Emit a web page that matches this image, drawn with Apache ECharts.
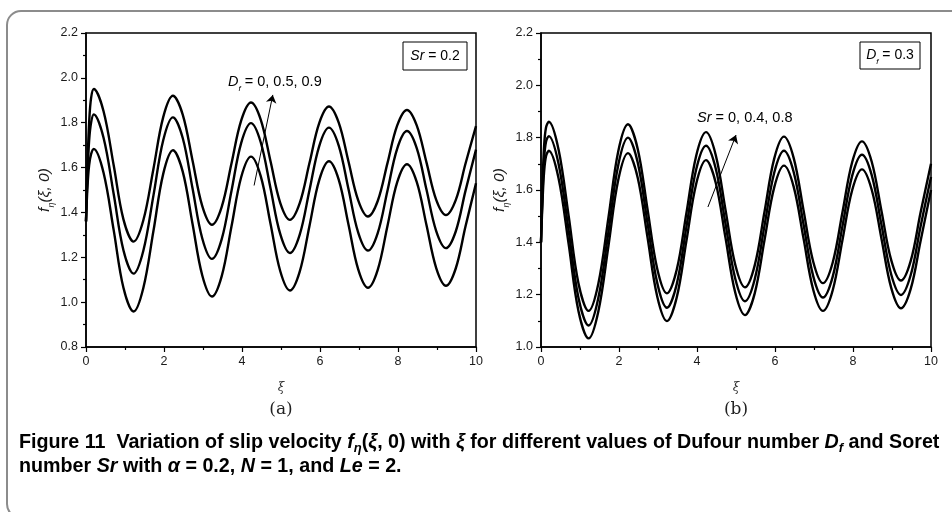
<!DOCTYPE html>
<html>
<head>
<meta charset="utf-8">
<script src="https://cdn.jsdelivr.net/npm/echarts@6/dist/echarts.min.js"></script>
<style>
  html, body { margin: 0; padding: 0; background: #fff; }
  #chart { width: 952px; height: 512px; }
</style>
</head>
<body>
<div id="chart"></div>
<script>
// ξ positions shared by every curve
const xi = [0, 0.04, 0.08, 0.13, 0.2, 0.45, 0.71, 0.96, 1.22, 1.47, 1.73, 1.98, 2.23, 2.48, 2.73, 2.98,
  3.23, 3.48, 3.73, 3.98, 4.23, 4.48, 4.73, 4.98, 5.23, 5.48, 5.73, 5.98, 6.23, 6.48, 6.73, 6.98,
  7.23, 7.48, 7.73, 7.98, 8.23, 8.48, 8.73, 8.98, 9.23, 9.48, 9.73, 10];

// Panel (a): Sr = 0.2, Df = 0, 0.5, 0.9
const aDf0 = [1.36, 1.52, 1.61, 1.66, 1.683, 1.577, 1.321, 1.064, 0.958, 1.063, 1.318, 1.572, 1.677, 1.582, 1.351, 1.120,
  1.025, 1.116, 1.337, 1.558, 1.649, 1.562, 1.351, 1.139, 1.052, 1.136, 1.340, 1.544, 1.628, 1.546, 1.346, 1.146,
  1.064, 1.144, 1.340, 1.535, 1.615, 1.536, 1.344, 1.152, 1.073, 1.150, 1.337, 1.53];
const aDf05 = [1.36, 1.58, 1.72, 1.80, 1.837, 1.733, 1.482, 1.231, 1.127, 1.229, 1.476, 1.722, 1.824, 1.732, 1.509, 1.285,
  1.193, 1.281, 1.496, 1.710, 1.798, 1.713, 1.509, 1.304, 1.219, 1.301, 1.499, 1.696, 1.778, 1.698, 1.504, 1.310,
  1.230, 1.308, 1.497, 1.685, 1.763, 1.687, 1.502, 1.317, 1.241, 1.315, 1.496, 1.68];
const aDf09 = [1.36, 1.62, 1.80, 1.91, 1.95, 1.851, 1.61, 1.369, 1.27, 1.365, 1.595, 1.825, 1.92, 1.836, 1.633, 1.429,
  1.345, 1.425, 1.618, 1.810, 1.89, 1.814, 1.629, 1.443, 1.367, 1.441, 1.620, 1.798, 1.872, 1.800, 1.627, 1.454,
  1.382, 1.451, 1.620, 1.788, 1.857, 1.788, 1.623, 1.456, 1.388, 1.455, 1.617, 1.785];

// Panel (b): Df = 0.3, Sr = 0, 0.4, 0.8
const bSr0 = [1.40, 1.56, 1.67, 1.73, 1.75, 1.645, 1.392, 1.138, 1.033, 1.136, 1.387, 1.638, 1.741, 1.647, 1.42, 1.193,
  1.099, 1.189, 1.407, 1.624, 1.714, 1.628, 1.418, 1.208, 1.122, 1.205, 1.408, 1.610, 1.693, 1.612, 1.416, 1.219,
  1.138, 1.217, 1.409, 1.600, 1.679, 1.601, 1.414, 1.226, 1.148, 1.222, 1.403, 1.60];
const bSr04 = [1.40, 1.59, 1.72, 1.785, 1.806, 1.70, 1.444, 1.188, 1.082, 1.187, 1.441, 1.695, 1.800, 1.705, 1.475, 1.245,
  1.150, 1.240, 1.460, 1.679, 1.769, 1.682, 1.472, 1.262, 1.175, 1.259, 1.463, 1.666, 1.750, 1.668, 1.470, 1.271,
  1.189, 1.269, 1.462, 1.655, 1.735, 1.657, 1.467, 1.277, 1.199, 1.275, 1.459, 1.65];
const bSr08 = [1.40, 1.62, 1.77, 1.84, 1.861, 1.755, 1.50, 1.244, 1.138, 1.242, 1.495, 1.747, 1.851, 1.757, 1.528, 1.299,
  1.205, 1.295, 1.513, 1.731, 1.821, 1.734, 1.525, 1.315, 1.228, 1.312, 1.516, 1.720, 1.804, 1.722, 1.524, 1.326,
  1.244, 1.323, 1.515, 1.707, 1.786, 1.708, 1.520, 1.332, 1.254, 1.329, 1.512, 1.70];

// Axis ranges and ticks
const xRange = [0, 10, 2];
const yRangeA = [0.8, 2.2, 0.2];
const yRangeB = [1.0, 2.2, 0.2];

// Direction arrows (data coordinates: start, end)
const arrowA = [[4.31, 1.52], [4.79, 1.924]];
const arrowB = [[4.28, 1.535], [5.0, 1.81]];

const AX = '#000';
const tickFont = { fontFamily: 'Liberation Sans, Arial, sans-serif', fontSize: 12.5, color: '#1a1a1a' };
const italicSans = { fontFamily: 'Liberation Sans, Arial, sans-serif', fontStyle: 'italic', fontSize: 14, color: '#1a1a1a' };
const subSans = { fontFamily: 'Liberation Sans, Arial, sans-serif', fontStyle: 'italic', fontSize: 8, color: '#1a1a1a', verticalAlign: 'bottom', padding: [0, 0, -3, 0] };
const titleSans = Object.assign({}, italicSans, { fontSize: 15.5 });
const titleSub = Object.assign({}, subSans, { fontSize: 9 });

function xAxisCfg(gridIndex) {
  return {
    type: 'value', gridIndex, min: xRange[0], max: xRange[1], interval: xRange[2],
    name: 'ξ', nameLocation: 'middle', nameGap: 35,
    nameTextStyle: { fontFamily: 'DejaVu Serif, serif', fontStyle: 'italic', fontSize: 12, color: '#333' },
    axisLine: { show: true, lineStyle: { color: AX, width: 1.5 } },
    axisTick: { show: true, inside: false, length: 5, lineStyle: { color: AX, width: 1.2 } },
    minorTick: { show: true, splitNumber: 2, length: 3, lineStyle: { color: AX, width: 1.2 } },
    splitLine: { show: false },
    axisLabel: Object.assign({ margin: 8 }, tickFont)
  };
}
function yAxisCfg(gridIndex, r) {
  return {
    type: 'value', gridIndex, min: r[0], max: r[1], interval: r[2],
    name: '{i|f}{s|η}{i|(ξ, 0)}', nameLocation: 'middle', nameGap: 33, nameRotate: 90,
    nameTextStyle: { rich: { i: titleSans, s: titleSub } },
    axisLine: { show: true, lineStyle: { color: AX, width: 1.5 } },
    axisTick: { show: true, inside: false, length: 5, lineStyle: { color: AX, width: 1.2 } },
    minorTick: { show: true, splitNumber: 2, length: 3, lineStyle: { color: AX, width: 1.2 } },
    splitLine: { show: false },
    axisLabel: Object.assign({ margin: 8, formatter: v => v.toFixed(1) }, tickFont)
  };
}

function curve(vals, xIdx, extra) {
  return Object.assign({
    type: 'line', xAxisIndex: xIdx, yAxisIndex: xIdx,
    data: xi.map((x, i) => [x, vals[i]]),
    showSymbol: false, smooth: 0.35,
    lineStyle: { color: '#000', width: 2.4 }, silent: true
  }, extra || {});
}
function arrow(a) {
  return {
    silent: true, symbol: ['none', 'arrow'], symbolSize: 8,
    label: { show: false },
    lineStyle: { color: '#000', width: 1, type: 'solid' },
    data: [[{ coord: a[0] }, { coord: a[1] }]]
  };
}

const capFont = 'Liberation Sans, Arial, sans-serif';
const capBase = { fontFamily: capFont, fontWeight: 'bold', fontSize: 19.7, color: '#231f20', lineHeight: 24 };
const capRich = {
  n: capBase,
  i: Object.assign({}, capBase, { fontStyle: 'italic' }),
  s: Object.assign({}, capBase, { fontStyle: 'italic', fontSize: 13, verticalAlign: 'bottom', lineHeight: 20 })
};

const chart = echarts.init(document.getElementById('chart'), null, { renderer: 'canvas' });
chart.setOption({
  animation: false,
  backgroundColor: '#fff',
  grid: [
    { left: 86, top: 33, width: 390, height: 314, show: true, borderColor: AX, borderWidth: 1.5, backgroundColor: 'transparent' },
    { left: 541, top: 33, width: 390, height: 314, show: true, borderColor: AX, borderWidth: 1.5, backgroundColor: 'transparent' }
  ],
  xAxis: [xAxisCfg(0), xAxisCfg(1)],
  yAxis: [yAxisCfg(0, yRangeA), yAxisCfg(1, yRangeB)],
  series: [
    curve(aDf0, 0, { markLine: arrow(arrowA) }),
    curve(aDf05, 0),
    curve(aDf09, 0),
    curve(bSr0, 1, { markLine: arrow(arrowB) }),
    curve(bSr04, 1),
    curve(bSr08, 1)
  ],
  graphic: [
    // outer frame
    { type: 'rect', shape: { x: 7, y: 11, width: 970, height: 507, r: 14 },
      style: { fill: 'none', stroke: '#8c8c8c', lineWidth: 2 }, z: 0 },
    // parameter boxes
    { type: 'rect', shape: { x: 403, y: 42, width: 64, height: 28 },
      style: { fill: '#fff', stroke: '#000', lineWidth: 1 }, z: 10 },
    { type: 'text', x: 435, y: 56, z: 11,
      style: { text: '{i|Sr}{n| = 0.2}', align: 'center', verticalAlign: 'middle',
        rich: { i: Object.assign({}, italicSans, { fontSize: 14 }), n: Object.assign({}, tickFont, { fontSize: 14 }) } } },
    { type: 'rect', shape: { x: 860, y: 42, width: 60, height: 27 },
      style: { fill: '#fff', stroke: '#000', lineWidth: 1 }, z: 10 },
    { type: 'text', x: 890, y: 55.5, z: 11,
      style: { text: '{i|D}{s|f}{n| = 0.3}', align: 'center', verticalAlign: 'middle',
        rich: { i: Object.assign({}, italicSans, { fontSize: 14 }), s: subSans, n: Object.assign({}, tickFont, { fontSize: 14 }) } } },
    // parameter annotations
    { type: 'text', x: 228, y: 82, z: 11,
      style: { text: '{i|D}{s|f}{n| = 0, 0.5, 0.9}', align: 'left', verticalAlign: 'middle',
        rich: { i: Object.assign({}, italicSans, { fontSize: 14.5 }), s: subSans, n: Object.assign({}, tickFont, { fontSize: 14.5 }) } } },
    { type: 'text', x: 697, y: 118, z: 11,
      style: { text: '{i|Sr}{n| = 0, 0.4, 0.8}', align: 'left', verticalAlign: 'middle',
        rich: { i: Object.assign({}, italicSans, { fontSize: 14.5 }), n: Object.assign({}, tickFont, { fontSize: 14.5 }) } } },
    // panel labels
    { type: 'text', x: 281, y: 410, z: 11,
      style: { text: '(a)', align: 'center', verticalAlign: 'middle', fontFamily: 'DejaVu Serif, serif', fontSize: 17, fill: '#222' } },
    { type: 'text', x: 736, y: 410, z: 11,
      style: { text: '(b)', align: 'center', verticalAlign: 'middle', fontFamily: 'DejaVu Serif, serif', fontSize: 17, fill: '#222' } },
    // caption
    { type: 'text', x: 19, y: 431, z: 11,
      style: {
        text: '{n|Figure 11  Variation of slip velocity }{i|f}{s|η}{n|(}{i|ξ}{n|, 0) with }{i|ξ}{n| for different values of Dufour number }{i|D}{s|f}{n| and Soret}\n' +
              '{n|number }{i|Sr}{n| with }{i|α}{n| = 0.2, }{i|N}{n| = 1, and }{i|Le}{n| = 2.}',
        align: 'left', verticalAlign: 'top', rich: capRich
      } }
  ]
});
</script>
</body>
</html>
